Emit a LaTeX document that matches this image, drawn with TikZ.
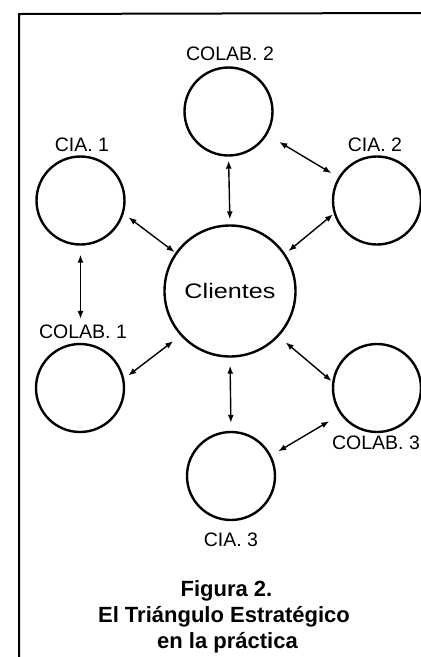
\documentclass[tikz,border=0pt]{standalone}
\usepackage{fontspec}
\setmainfont{Liberation Sans}
\usetikzlibrary{arrows.meta}
\begin{document}
\begin{tikzpicture}[x=1pt,y=-1pt,
  circ/.style={circle,draw,line width=2.4pt,minimum size=88pt,inner sep=0pt},
  lbl/.style={font=\fontsize{19.5}{22}\selectfont,inner sep=2pt},
  captxt/.style={font=\bfseries\fontsize{22}{26}\selectfont,anchor=base},
  lk/.style={{Latex[length=8pt,width=6pt]}-{Latex[length=8pt,width=6pt]},line width=1.4pt}]
\useasboundingbox (0,0) rectangle (421,657);
% frame
\coordinate (f1) at (421,13);
\coordinate (f2) at (19,14);
\coordinate (f3) at (19,657);
\draw[line width=2pt] (f1) -- (f2) -- (f3);
% circles
\node[circ] (colab2) at (228.5,111.5) {};
\node[circ] (cia1) at (80.5,200.5) {};
\node[circ] (cia2) at (377,200.5) {};
\node[circ,minimum size=131pt] (cli) at (230,291) {\fontsize{21}{24}\selectfont\scalebox{1.2}[1]{Clientes}};
\node[circ] (colab1) at (80,388) {};
\node[circ] (colab3) at (377,388) {};
\node[circ] (cia3) at (231,476) {};
% labels
\node[lbl] (lcolab2) at (230,54) {COLAB. 2};
\node[lbl] (lcia1) at (82,145) {CIA. 1};
\node[lbl] (lcia2) at (375,145) {CIA. 2};
\node[lbl] (lcolab1) at (83,332) {COLAB. 1};
\node[lbl] (lcolab3) at (376,443) {COLAB. 3};
\node[lbl] (lcia3) at (231,540) {CIA. 3};
% caption
\node[captxt] (c1) at (226.5,596) {Figura 2.};
\node[captxt] (c2) at (224,622) {El Triángulo Estratégico};
\node[captxt] (c3) at (227.5,648) {en la práctica};
% connectors
\draw[lk,shorten <=4pt,shorten >=5pt] (colab2.south) -- (cli.north);
\draw[lk,shorten <=9pt,shorten >=4pt] (cia1.south) -- (cia1.south |- lcolab1.north);
\draw[lk,shorten <=6pt,shorten >=1pt] (cia1.-17) -- (cli.145);
\draw[lk,shorten <=14pt,shorten >=8pt] (colab2.-31.5) -- (cia2.149);
\draw[lk,shorten <=1pt,shorten >=4pt] (cia2.197.5) -- (cli.34);
\draw[lk,shorten <=5pt,shorten >=9pt] (colab1.12.7) -- (cli.222);
\draw[lk,shorten <=9pt,shorten >=1pt] (cli.-43.4) -- (colab3.172.4);
\draw[lk,shorten <=8pt,shorten >=8pt] (cli.south) -- (cia3.north);
\draw[lk,shorten <=8pt,shorten >=13pt] (cia3.27) -- (colab3.216.7);
\end{tikzpicture}
\end{document}
